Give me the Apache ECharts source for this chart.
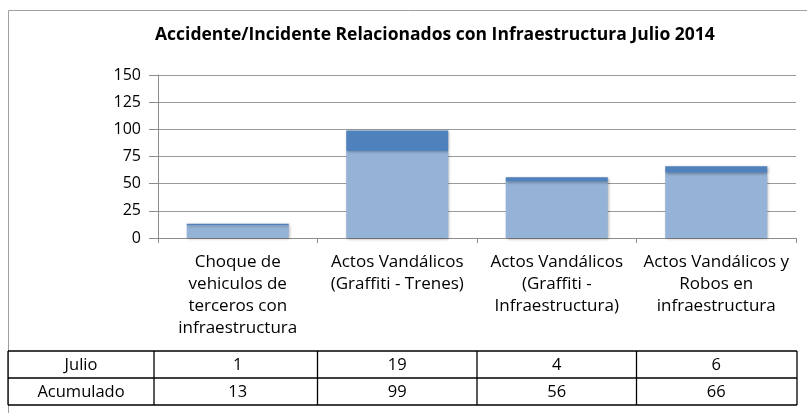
<!DOCTYPE html>
<html>
<head>
<meta charset="utf-8">
<script src="https://cdn.jsdelivr.net/npm/echarts@6/dist/echarts.min.js"></script>
<style>
  html, body { margin: 0; padding: 0; background: #fff; }
  #chart { width: 807px; height: 413px; }
</style>
</head>
<body>
<div id="chart"></div>
<script>
// datos
var categories = [
  "Choque de\nvehiculos de\nterceros con\ninfraestructura",
  "Actos Vandálicos\n(Graffiti - Trenes)",
  "Actos Vandálicos\n(Graffiti -\nInfraestructura)",
  "Actos Vandálicos y\nRobos en\ninfraestructura"
];
var julio = [1, 19, 4, 6];
var acumulado = [13, 99, 56, 66];
var rowNames = ["Julio", "Acumulado"];
var yTicks = [0, 25, 50, 75, 100, 125, 150];

var FONT = "'Open Sans', 'Liberation Sans', Arial, sans-serif";
var W = 807, H = 413;
var gridLeft = 158, gridRight = 11, gridTop = 75, gridBottom = 175;

// parte anterior del acumulado (debajo de julio en la pila)
var previo = acumulado.map(function (v, i) { return v - julio[i]; });

var myChart = echarts.init(document.getElementById("chart"));

// tabla de datos debajo del eje
var plotW = W - gridLeft - gridRight;
var band = plotW / categories.length;
var tTop = 351, rowH = 27, tLeft = 8, tRight = 797;
var graphics = [];
// borde del area del grafico
graphics.push({
  type: "rect",
  shape: { x: 8.5, y: 10.5, width: 900, height: 500 },
  style: { fill: null, stroke: "#a0a0a0", lineWidth: 1 },
  silent: true
});
var lineStyle = { stroke: "#000", lineWidth: 1.3 };
[0, 1, 2].forEach(function (r) {
  graphics.push({
    type: "line",
    shape: { x1: tLeft, y1: tTop + r * rowH, x2: tRight, y2: tTop + r * rowH },
    style: lineStyle
  });
});
var cols = [tLeft, gridLeft - 4];
for (var i = 1; i < categories.length; i++) cols.push(gridLeft + band * i);
cols.push(tRight);
cols.forEach(function (x) {
  graphics.push({
    type: "line",
    shape: { x1: x, y1: tTop, x2: x, y2: tTop + 2 * rowH },
    style: lineStyle
  });
});
var rows = [julio, acumulado];
rows.forEach(function (vals, r) {
  var cy = tTop + r * rowH + rowH / 2 + 1;
  graphics.push({
    type: "text",
    style: {
      text: rowNames[r], x: (cols[0] + cols[1]) / 2, y: cy,
      align: "center", verticalAlign: "middle",
      font: "16.5px " + FONT, fill: "#000"
    }
  });
  vals.forEach(function (v, c) {
    graphics.push({
      type: "text",
      style: {
        text: String(v), x: gridLeft + band * (c + 0.5), y: cy,
        align: "center", verticalAlign: "middle",
        font: "16.5px " + FONT, fill: "#000"
      }
    });
  });
});

var barShadow = {
  shadowBlur: 3,
  shadowColor: "rgba(0,0,0,0.35)",
  shadowOffsetX: 1,
  shadowOffsetY: 1
};

var option = {
  animation: false,
  backgroundColor: "#fff",
  title: {
    text: "Accidente/Incidente Relacionados con Infraestructura Julio 2014",
    left: 155,
    top: 26,
    padding: 0,
    textStyle: { fontFamily: FONT, fontSize: 17.5, fontWeight: "bold", color: "#000" }
  },
  grid: { left: gridLeft, right: gridRight, top: gridTop, bottom: gridBottom, containLabel: false },
  xAxis: {
    type: "category",
    data: categories,
    axisLine: { lineStyle: { color: "#8c8c8c", width: 1 } },
    axisTick: { show: true, length: 5, lineStyle: { color: "#8c8c8c" } },
    axisLabel: {
      interval: 0,
      margin: 13,
      lineHeight: 22,
      fontFamily: FONT,
      fontSize: 17,
      color: "#000",
      align: "center"
    }
  },
  yAxis: {
    type: "value",
    min: yTicks[0],
    max: yTicks[yTicks.length - 1],
    interval: yTicks[1] - yTicks[0],
    axisLine: { show: true, lineStyle: { color: "#8c8c8c", width: 1 } },
    axisTick: { show: true, length: 9, lineStyle: { color: "#8c8c8c" } },
    splitLine: { lineStyle: { color: "#9a9a9a", width: 1.2 } },
    axisLabel: { margin: 17, fontFamily: FONT, fontSize: 16, color: "#000" }
  },
  series: [
    {
      name: "Acumulado previo",
      type: "bar",
      stack: "total",
      barCategoryGap: "36%",
      data: previo,
      itemStyle: Object.assign({ color: "#95b3d7" }, barShadow)
    },
    {
      name: "Julio",
      type: "bar",
      stack: "total",
      barCategoryGap: "36%",
      data: julio,
      itemStyle: Object.assign({ color: "#4f81bd" }, barShadow)
    }
  ],
  graphic: graphics
};
myChart.setOption(option);
</script>
</body>
</html>
